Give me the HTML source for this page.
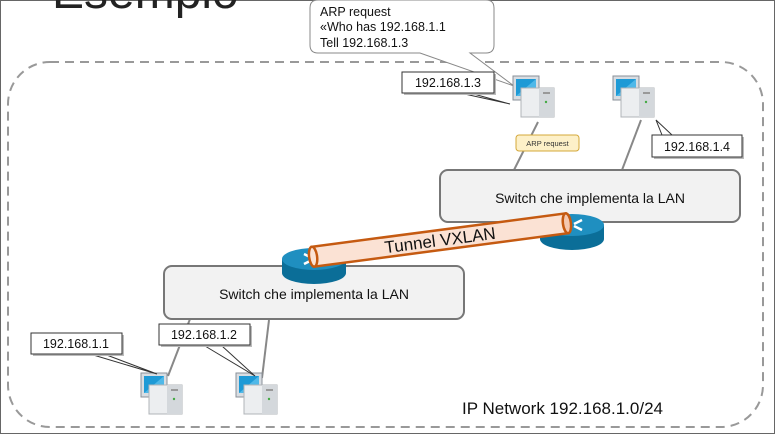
<!DOCTYPE html>
<html><head><meta charset="utf-8"><style>
html,body{margin:0;padding:0;background:#fff;}
svg{display:block;font-family:"Liberation Sans",sans-serif;}
</style></head><body>
<svg width="775" height="434" viewBox="0 0 775 434" xmlns="http://www.w3.org/2000/svg">
<defs>
<g id="pc">
  <rect x="0" y="0" width="26" height="24" fill="#d8dde2" stroke="#8a9098" stroke-width="1"/>
  <rect x="3" y="3" width="20" height="17" fill="#1e9ad6"/>
  <polygon points="3,20 23,3 23,20" fill="#4fb8e8"/>
  <rect x="9" y="24" width="8" height="4" fill="#c8ccd0"/>
  <rect x="8" y="12" width="33" height="29" fill="#eceef0" stroke="#b0b4b8" stroke-width="1"/>
  <rect x="26" y="12" width="15" height="29" fill="#d4d8dc"/>
  <rect x="30" y="16" width="7" height="2" fill="#999"/>
  <circle cx="33" cy="26" r="1.2" fill="#4a4"/>
</g>
<g id="router">
  <path d="M0,12 L0,26 A32,11 0 0 0 64,26 L64,12 Z" fill="#0b6e98"/>
  <ellipse cx="32" cy="12" rx="32" ry="11" fill="#1f8fc0"/>
  <path d="M22,7 l8,4 M42,17 l-8,-4 M42,7 l-8,4 M22,17 l8,-4" stroke="#fff" stroke-width="2.5"/>
</g>
</defs>
<rect x="0.5" y="0.5" width="774" height="433" fill="#fff" stroke="#666" stroke-width="1"/>
<text x="52" y="8" font-size="48" fill="#222">Esempio</text>
<rect x="8" y="62" width="755" height="365" rx="42" fill="none" stroke="#999" stroke-width="2" stroke-dasharray="9,6"/>

<!-- callout -->
<path d="M320,0 L486,0 Q494,0 494,8 L494,45 Q494,53 486,53 L470,53 L514,86 L420,53 L318,53 Q310,53 310,45 L310,8 Q310,0 318,0 Z" fill="#fff" stroke="#888" stroke-width="1"/>
<text font-size="12.5" fill="#111"><tspan x="320" y="16">ARP request</tspan><tspan x="320" y="31">«Who has 192.168.1.1</tspan><tspan x="320" y="47">Tell 192.168.1.3</tspan></text>

<!-- lines -->
<g stroke="#888" stroke-width="2">
<line x1="538" y1="122" x2="514" y2="170"/>
<line x1="641" y1="120" x2="622" y2="170"/>
<line x1="190" y1="319" x2="168" y2="376"/>
<line x1="269" y1="320" x2="262" y2="378"/>
</g>

<!-- switches -->
<rect x="440" y="170" width="300" height="52" rx="8" fill="#f2f2f2" stroke="#777" stroke-width="2"/>
<text x="590" y="203" font-size="14" text-anchor="middle" fill="#111">Switch che implementa la LAN</text>
<rect x="164" y="266" width="300" height="53" rx="8" fill="#f2f2f2" stroke="#777" stroke-width="2"/>
<text x="314" y="299" font-size="14" text-anchor="middle" fill="#111">Switch che implementa la LAN</text>
<use href="#router" x="540" y="213"/>
<use href="#router" x="282" y="247"/>

<!-- tunnel -->
<g transform="translate(440,240) rotate(-7.5)">
  <rect x="-128" y="-10" width="256" height="20" fill="#fbe2d4" stroke="#c55a11" stroke-width="2.5"/>
  <ellipse cx="-128" cy="0" rx="4" ry="10" fill="#fbe2d4" stroke="#c55a11" stroke-width="2.5"/>
  <ellipse cx="128" cy="0" rx="4" ry="10" fill="#f4c8b0" stroke="#c55a11" stroke-width="2.5"/>
  <text x="0" y="6" font-size="17" text-anchor="middle" fill="#111">Tunnel VXLAN</text>
</g>

<!-- computers -->
<use href="#pc" x="513" y="76"/>
<use href="#pc" x="613" y="76"/>
<use href="#pc" x="141" y="373"/>
<use href="#pc" x="236" y="373"/>

<!-- labels -->
<g stroke="#333" stroke-width="1">
<polyline points="460,93 510,104 470,93" fill="#fff"/>
<polyline points="662,135 656,120 672,135" fill="#fff"/>
<polyline points="90,354 157,374 104,354" fill="#fff"/>
<polyline points="205,346 255,376 222,346" fill="#fff"/>
</g>
<g font-size="12.5" fill="#111">
<rect x="404" y="74" width="92" height="21" fill="#bbb"/>
<rect x="402" y="72" width="92" height="21" fill="#fff" stroke="#333"/>
<text x="448" y="87" text-anchor="middle">192.168.1.3</text>
<rect x="654" y="137" width="90" height="22" fill="#bbb"/>
<rect x="652" y="135" width="90" height="22" fill="#fff" stroke="#333"/>
<text x="697" y="151" text-anchor="middle">192.168.1.4</text>
<rect x="33" y="335" width="91" height="21" fill="#bbb"/>
<rect x="31" y="333" width="91" height="21" fill="#fff" stroke="#333"/>
<text x="76" y="348" text-anchor="middle">192.168.1.1</text>
<rect x="161" y="326" width="91" height="21" fill="#bbb"/>
<rect x="159" y="324" width="91" height="21" fill="#fff" stroke="#333"/>
<text x="204" y="339" text-anchor="middle">192.168.1.2</text>
</g>
<rect x="516" y="135" width="63" height="16" rx="3" fill="#fdf0c8" stroke="#d4a83a" stroke-width="1"/>
<text x="547.5" y="146" font-size="7.5" text-anchor="middle" fill="#333">ARP request</text>

<text x="462" y="414" font-size="17" fill="#111">IP Network 192.168.1.0/24</text>
</svg>
</body></html>
